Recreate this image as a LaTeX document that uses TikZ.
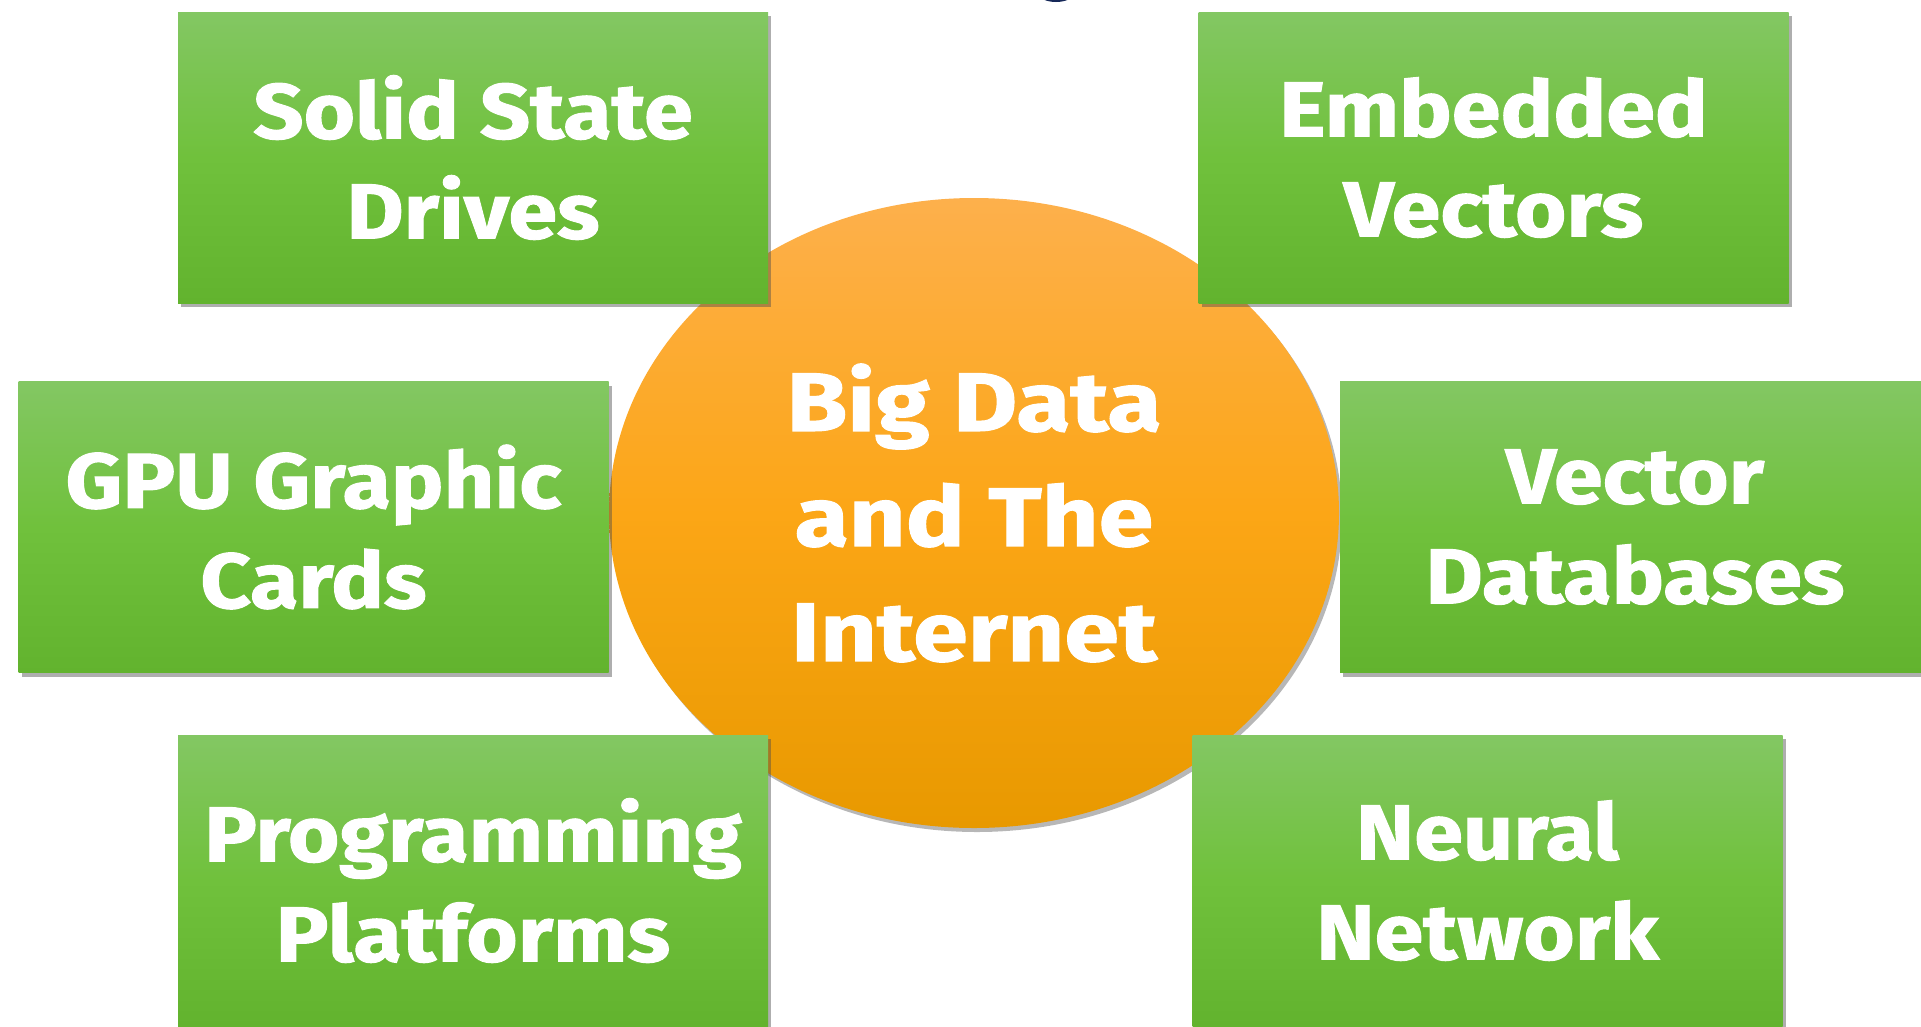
\documentclass[tikz,border=0pt]{standalone}
\usepackage{fontspec}
\newfontfamily\heavyA{Fira Sans}[BoldFeatures={FakeBold=1.3,FakeStretch=1.13}]
\newfontfamily\heavyB{Fira Sans}[BoldFeatures={FakeBold=1.3,FakeStretch=1.19}]
\usetikzlibrary{shadows,shapes.geometric}
\definecolor{gtop}{RGB}{131,199,99}
\definecolor{gmid}{RGB}{112,193,60}
\definecolor{gbot}{RGB}{98,179,46}
\definecolor{otop}{RGB}{253,176,76}
\definecolor{omid}{RGB}{252,166,22}
\definecolor{obot}{RGB}{232,153,0}
\definecolor{navy}{RGB}{22,40,88}
\begin{document}
\begin{tikzpicture}[x=1pt,y=-1pt,
  box/.style={rectangle, minimum width=590pt, minimum height=291pt, inner sep=0pt,
    top color=gtop, bottom color=gbot, middle color=gmid,
    drop shadow={shadow xshift=3pt, shadow yshift=-4pt, opacity=0.45, fill=black!70},
    text=white, align=center, font=\heavyA\bfseries\fontsize{78}{100}\selectfont},
  hub/.style={ellipse, minimum width=730pt, minimum height=630pt, inner sep=0pt,
    top color=otop, bottom color=obot, middle color=omid,
    drop shadow={shadow xshift=3pt, shadow yshift=-4pt, opacity=0.4, fill=black!70},
    text=white, align=center, font=\heavyB\bfseries\fontsize{83}{115}\selectfont}]
\useasboundingbox (0,0) rectangle (1921,1026);
\fill[navy] (1056,-8) ellipse [x radius=19pt, y radius=10pt];
\node[hub] (hub) at (974,513) {Big Data\\and The\\Internet};
\node[box] (ssd) at (473,157.5) {Solid State\\Drives};
\node[box] (emb) at (1493.5,157.5) {Embedded\\Vectors};
\node[box] (gpu) at (313.5,527) {GPU Graphic\\Cards};
\node[box] (vdb) at (1635,527) {Vector\\Databases};
\node[box] (prog) at (473,880.5) {Programming\\Platforms};
\node[box] (nn) at (1487.5,880.5) {Neural\\Network};
\end{tikzpicture}
\end{document}
